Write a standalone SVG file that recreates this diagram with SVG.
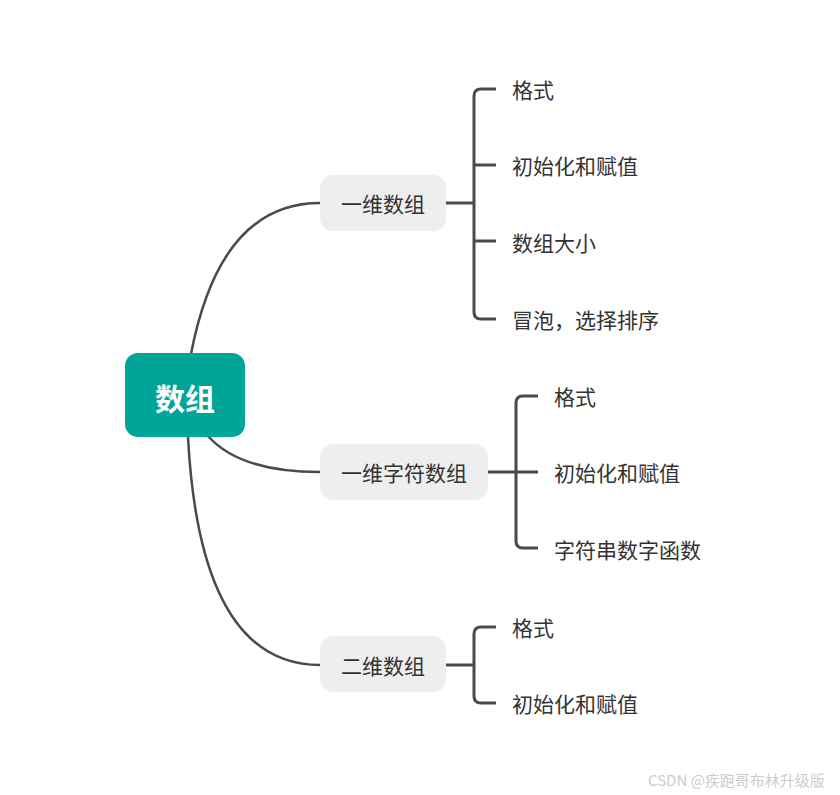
<svg xmlns="http://www.w3.org/2000/svg" width="840" height="795" viewBox="0 0 840 795">
<style>
.t{font-family:"Noto Sans CJK SC","Noto Sans",sans-serif;font-size:21px;fill:#333;dominant-baseline:central}
.n{fill:#eeeeee}
.c{fill:none;stroke:#4a4a4a;stroke-width:2.5;stroke-linecap:round}
.b{fill:none;stroke:#4a4a4a;stroke-width:3;stroke-linejoin:round}
</style>
<rect width="840" height="795" fill="#fff"/>
<g id="connectors">
<path class="c" d="M191,354 Q220,203 320,203"/>
<path class="c" d="M208,436 Q240,472 320,472"/>
<path class="c" d="M188,437 Q200,665 320,665"/>
<path class="b" d="M446,203 H474 M496,89 H481 Q474,89 474,96 V312 Q474,319 481,319 H496 M474,165 H496 M474,241 H496"/>
<path class="b" d="M488,472 H538 M538,396 H523 Q516,396 516,403 V541 Q516,548 523,548 H538"/>
<path class="b" d="M446,665 H474 M496,627 H481 Q474,627 474,634 V696 Q474,703 481,703 H496"/>
</g>
<g id="root">
<rect x="125" y="353" width="120" height="84" rx="13" fill="#00a597"/>
<text x="185" y="397" text-anchor="middle" style="font-family:'Noto Sans CJK SC','Noto Sans',sans-serif;font-size:30px;font-weight:bold;fill:#fff;dominant-baseline:central">数组</text>
</g>
<g id="n1">
<rect class="n" x="320" y="175" width="126" height="56" rx="13"/>
<text class="t" x="383" y="203" text-anchor="middle">一维数组</text>
</g>
<g id="n2">
<rect class="n" x="320" y="444" width="168" height="56" rx="13"/>
<text class="t" x="404" y="472" text-anchor="middle">一维字符数组</text>
</g>
<g id="n3">
<rect class="n" x="320" y="636" width="126" height="56" rx="13"/>
<text class="t" x="383" y="665" text-anchor="middle">二维数组</text>
</g>
<g id="n1a"><text class="t" x="512" y="89">格式</text></g>
<g id="n1b"><text class="t" x="512" y="165">初始化和赋值</text></g>
<g id="n1c"><text class="t" x="512" y="242">数组大小</text></g>
<g id="n1d"><text class="t" x="512" y="319">冒泡，选择排序</text></g>
<g id="n2a"><text class="t" x="554" y="396">格式</text></g>
<g id="n2b"><text class="t" x="554" y="472">初始化和赋值</text></g>
<g id="n2c"><text class="t" x="554" y="549">字符串数字函数</text></g>
<g id="n3a"><text class="t" x="512" y="627">格式</text></g>
<g id="n3b"><text class="t" x="512" y="703">初始化和赋值</text></g>
<text x="648" y="779" style="font-family:'Noto Sans CJK SC','Noto Sans',sans-serif;font-size:15px;fill:#cccccc;dominant-baseline:central">CSDN @疾跑哥布林升级版</text>
</svg>
